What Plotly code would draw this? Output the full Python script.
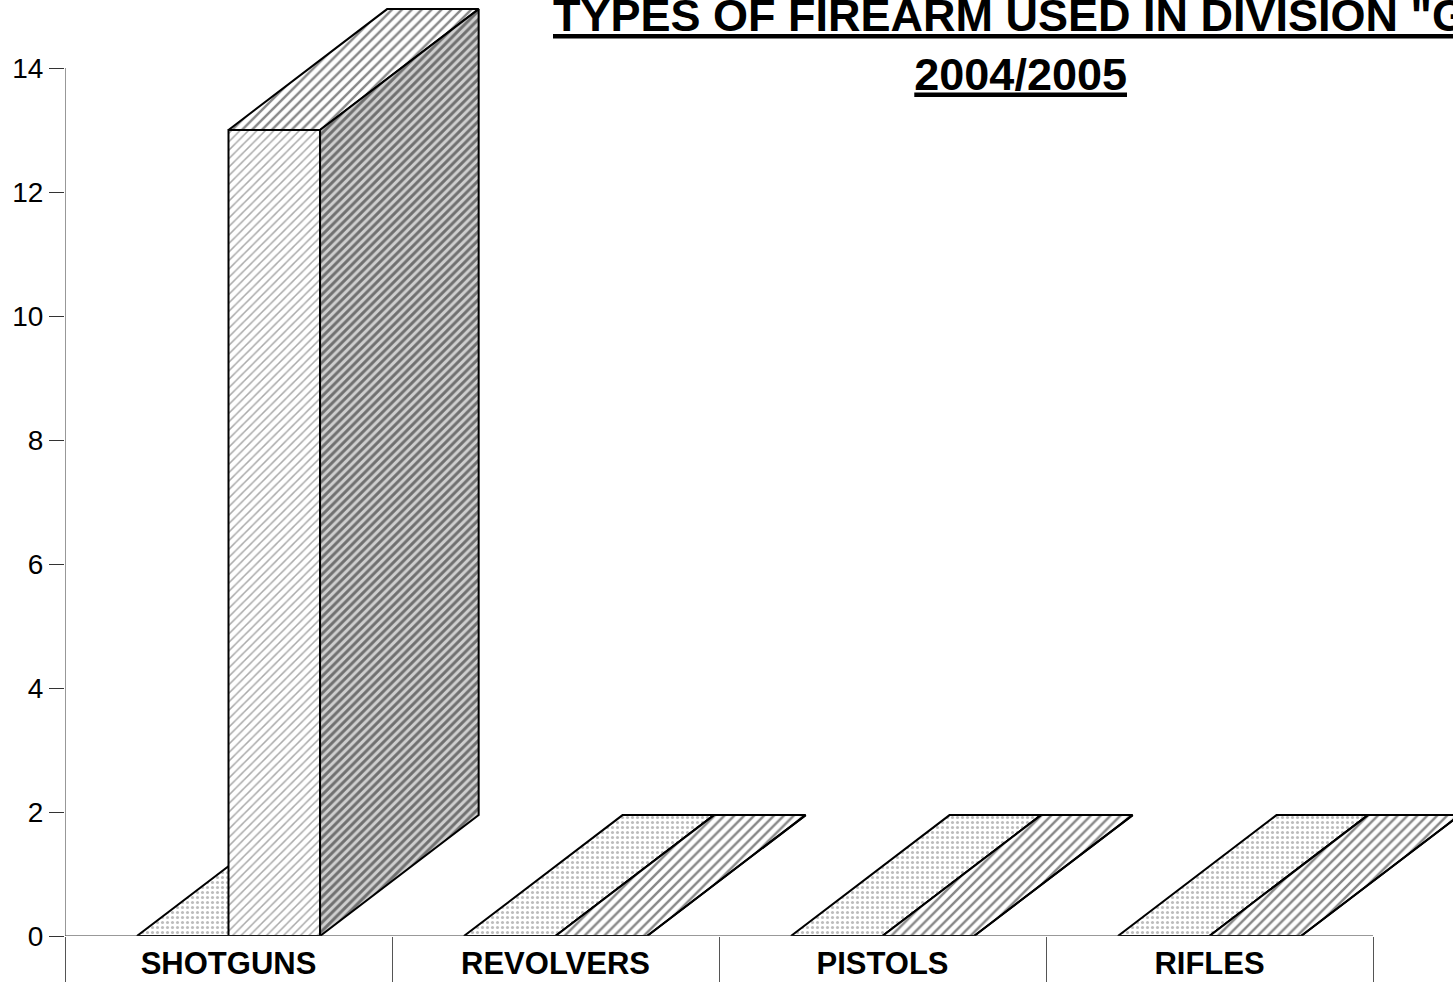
import plotly.graph_objects as go

# ---------------- data ----------------
categories = ["SHOTGUNS", "REVOLVERS", "PISTOLS", "RIFLES"]
series_dotted = [0, 0, 0, 0]
series_hatched = [13, 0, 0, 0]
y_tick_values = [0, 2, 4, 6, 8, 10, 12, 14]
title_line1 = 'TYPES OF FIREARM USED IN DIVISION "G"'
title_line2 = "2004/2005"

# ---------------- geometry (3D look) ----------------
BAR_W = 0.28      # width of one bar in category units
DEPTH_X = 0.485   # depth offset in x (category units)
DEPTH_Y = 1.95    # depth offset in y (value units)
FONT = "Arial, Liberation Sans, sans-serif"


def bar_faces(values, offset):
    fx, fy, tx, ty, sx, sy = [], [], [], [], [], []
    for i, v in enumerate(values):
        x0 = i + 0.5 + offset
        x1 = x0 + BAR_W
        fx += [x0, x1, x1, x0, x0, None]
        fy += [0, 0, v, v, 0, None]
        tx += [x0, x1, x1 + DEPTH_X, x0 + DEPTH_X, x0, None]
        ty += [v, v, v + DEPTH_Y, v + DEPTH_Y, v, None]
        sx += [x1, x1 + DEPTH_X, x1 + DEPTH_X, x1, x1, None]
        sy += [0, DEPTH_Y, v + DEPTH_Y, v, 0, None]
    return (fx, fy), (tx, ty), (sx, sy)


def face_trace(xy, pattern):
    return go.Scatter(
        x=xy[0], y=xy[1], mode="lines", fill="toself",
        fillcolor="white",
        fillpattern=pattern,
        line=dict(color="black", width=2),
        hoverinfo="skip", showlegend=False,
    )


dot_pat = dict(shape=".", fgcolor="#7a7a7a", bgcolor="white", size=5, solidity=0.3)
front_pat = dict(shape="/", fgcolor="#555555", bgcolor="white", size=6, solidity=0.25)
top_pat = dict(shape="/", fgcolor="#111111", bgcolor="white", size=7, solidity=0.35)
side_pat = dict(shape="/", fgcolor="#111111", bgcolor="#cfcfcf", size=6, solidity=0.5)

fig = go.Figure()

df, dt, ds = bar_faces(series_dotted, -BAR_W)
fig.add_trace(face_trace(df, dot_pat))
fig.add_trace(face_trace(dt, dot_pat))
fig.add_trace(face_trace(ds, dot_pat))

hf, ht, hs = bar_faces(series_hatched, 0.0)
fig.add_trace(face_trace(hf, front_pat))
fig.add_trace(face_trace(ht, top_pat))
fig.add_trace(face_trace(hs, side_pat))

n = len(categories)
# axis lines (limited to data extent like the original)
fig.add_shape(type="line", xref="x", yref="y", x0=0, x1=n, y0=0, y1=0,
              line=dict(color="#333333", width=1))
fig.add_shape(type="line", xref="x", yref="y", x0=0, x1=0, y0=0, y1=max(y_tick_values),
              line=dict(color="#333333", width=1))

fig.add_annotation(
    xref="paper", yref="paper", x=(1020 - 65) / 1388, y=1.0,
    xanchor="center", yanchor="top",
    yshift=12, showarrow=False, align="center",
    text="<b><u>" + title_line1 + "</u></b><br><b><u>" + title_line2 + "</u></b>",
    font=dict(family=FONT, size=45, color="black"),
)

fig.update_layout(
    width=1453, height=982,
    margin=dict(l=65, r=0, t=0, b=46),
    paper_bgcolor="white", plot_bgcolor="white",
    xaxis=dict(
        range=[0, 1388 / 327], tickvals=[i + 0.5 for i in range(n)], ticktext=categories,
        ticks="", showgrid=False, zeroline=False, showline=False,
        ticklabelstandoff=6,
        tickfont=dict(family=FONT, size=31, color="black", weight="bold"),
        minor=dict(ticks="outside", ticklen=46, tick0=0, dtick=1,
                   tickcolor="#555555", tickwidth=1, showgrid=False),
    ),
    yaxis=dict(
        range=[0, 936 / 62], tickvals=y_tick_values,
        ticks="outside", ticklen=15, tickcolor="#333333", tickwidth=1,
        showgrid=False, zeroline=False, showline=False,
        tickfont=dict(family=FONT, size=28, color="black"),
    ),
)

fig.write_html("out.html", config={"displayModeBar": False},
               post_script="document.body.style.margin='0';")
